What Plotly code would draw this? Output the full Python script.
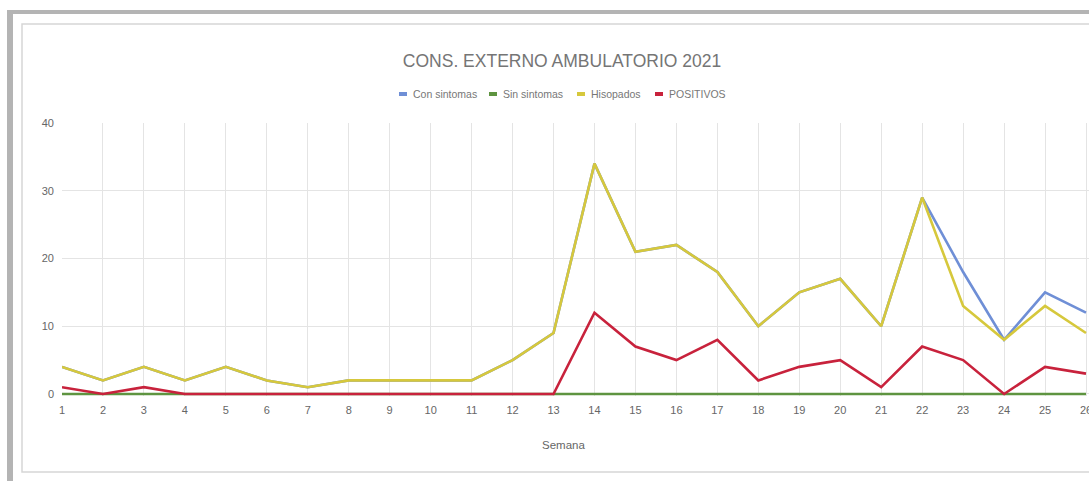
import plotly.graph_objects as go

semanas = list(range(1, 27))
con_sintomas = [4, 2, 4, 2, 4, 2, 1, 2, 2, 2, 2, 5, 9, 34, 21, 22, 18, 10, 15, 17, 10, 29, 18, 8, 15, 12]
sin_sintomas = [0] * 26
hisopados = [4, 2, 4, 2, 4, 2, 1, 2, 2, 2, 2, 5, 9, 34, 21, 22, 18, 10, 15, 17, 10, 29, 13, 8, 13, 9]
positivos = [1, 0, 1, 0, 0, 0, 0, 0, 0, 0, 0, 0, 0, 12, 7, 5, 8, 2, 4, 5, 1, 7, 5, 0, 4, 3]

series_names = ["Con sintomas", "Sin sintomas", "Hisopados", "POSITIVOS"]
series_values = [con_sintomas, sin_sintomas, hisopados, positivos]
series_colors = ["#6f8fd6", "#5e9440", "#d6c83c", "#c8223c"]
y_ticks = [0, 10, 20, 30, 40]
title_text = "CONS. EXTERNO AMBULATORIO 2021"
x_title = "Semana"

W, H = 1089, 481
L, R, T, B = 62, 0, 123, 85
PW, PH = W - L - R, H - T - B

def px(x):
    return (x - L) / PW

def py(y):
    return (H - B - y) / PH

FONT = "Liberation Sans, Arial, sans-serif"

fig = go.Figure()
for name, vals, col in zip(series_names, series_values, series_colors):
    fig.add_trace(go.Scatter(x=semanas, y=vals, mode="lines", name=name,
                             line=dict(color=col, width=2.6), showlegend=False))

shapes = []
annotations = []
# page frame / shadow
shapes.append(dict(type="rect", xref="paper", yref="paper", x0=px(7), x1=px(1095), y0=py(10), y1=py(14),
                   fillcolor="#b4b4b4", line=dict(width=0), layer="below"))
shapes.append(dict(type="rect", xref="paper", yref="paper", x0=px(7), x1=px(13), y0=py(10), y1=py(490),
                   fillcolor="#b4b4b4", line=dict(width=0), layer="below"))
shapes.append(dict(type="rect", xref="paper", yref="paper", x0=px(22), x1=px(1100), y0=py(24), y1=py(472),
                   fillcolor="rgba(0,0,0,0)", line=dict(color="#d6d6d6", width=1.5), layer="below"))

# manual legend
leg_marker_x = [403, 493, 581, 659]
leg_y = 94
for name, col, mx in zip(series_names, series_colors, leg_marker_x):
    shapes.append(dict(type="line", xref="paper", yref="paper", x0=px(mx - 4), x1=px(mx + 4),
                       y0=py(leg_y), y1=py(leg_y), line=dict(color=col, width=4)))
    annotations.append(dict(xref="paper", yref="paper", x=px(mx + 8), y=py(leg_y), text=name,
                            showarrow=False, xanchor="left", yanchor="middle",
                            font=dict(family=FONT, size=10.5, color="#777777")))

annotations.append(dict(xref="paper", yref="paper", x=px(563), y=py(445), text=x_title,
                        showarrow=False, xanchor="center", yanchor="middle",
                        font=dict(family=FONT, size=11.5, color="#666666")))

fig.update_layout(
    width=W, height=H,
    margin=dict(l=L, r=R, t=T, b=B, pad=0, autoexpand=False),
    paper_bgcolor="white", plot_bgcolor="white",
    title=dict(text=title_text, x=562 / W, xanchor="center", y=1 - 61 / H, yanchor="middle",
               xref="container", yref="container",
               font=dict(family=FONT, size=17.5, color="#757575")),
    showlegend=False,
    shapes=shapes,
    annotations=annotations,
    font=dict(family=FONT, color="#666666"),
)
fig.update_xaxes(range=[1, 1 + PW / 40.96], tickmode="array", tickvals=semanas,
                 ticktext=[str(s) for s in semanas], showgrid=True, gridcolor="#e4e4e4",
                 gridwidth=1, zeroline=False, showline=False, ticks="", ticklabelstandoff=6,
                 ticklabeloverflow="allow", automargin=False,
                 tickfont=dict(family=FONT, size=11, color="#666666"))
fig.update_yaxes(range=[-0.3, 40], tickmode="array", tickvals=y_ticks, showgrid=True,
                 gridcolor="#e4e4e4", gridwidth=1, zeroline=False, showline=False, ticks="",
                 ticklabelstandoff=7, automargin=False,
                 tickfont=dict(family=FONT, size=11, color="#666666"))

fig.write_html("out.html", config={"displayModeBar": False},
               post_script="document.body.style.margin='0';document.body.style.overflow='hidden';")
